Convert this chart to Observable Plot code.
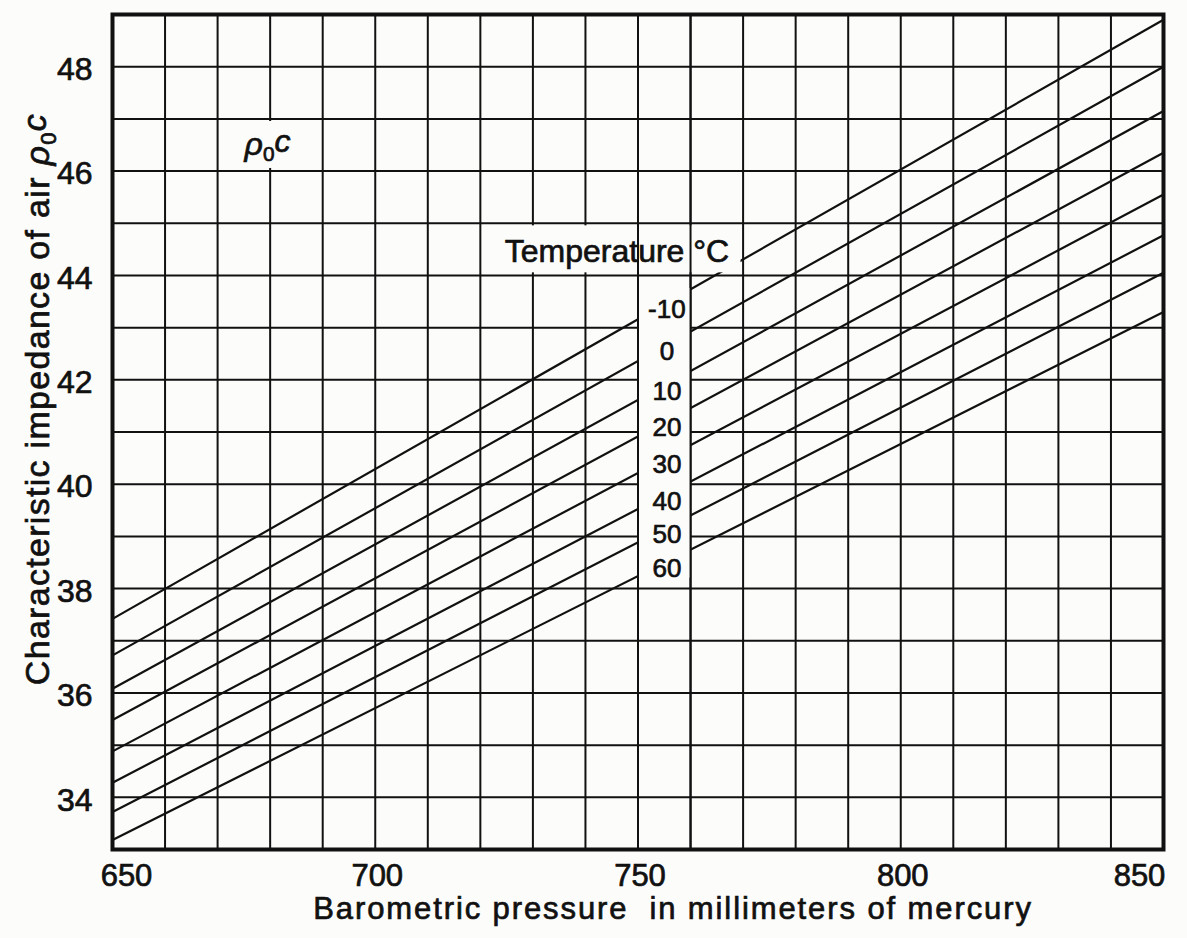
<!DOCTYPE html>
<html><head><meta charset="utf-8">
<script src="https://cdn.jsdelivr.net/npm/d3@7"></script>
<script src="https://cdn.jsdelivr.net/npm/@observablehq/plot@0.6"></script>
<style>
body{margin:0;background:#fcfcfa}
svg text{stroke:#111;stroke-width:0.7px;paint-order:stroke}
</style>
</head><body><div id="chart"></div>
<script>
// ---- data ----
const temperatures = ["-10", "0", "10", "20", "30", "40", "50", "60"];
const pressureEnds = [650, 850];
const impedanceAt650 = [37.42, 36.72, 36.08, 35.48, 34.88, 34.28, 33.72, 33.18];
const impedanceAt850 = [48.90, 48.00, 47.15, 46.35, 45.55, 44.77, 44.05, 43.30];
const xTickLabels = [650, 700, 750, 800, 850];
const yTickLabels = [34, 36, 38, 40, 42, 44, 46, 48];
const xGrid = d3.range(650, 851, 10);
const yGrid = d3.range(33, 50, 1);

const lines = temperatures.flatMap((t, i) => [
  {t, p: pressureEnds[0], z: impedanceAt650[i]},
  {t, p: pressureEnds[1], z: impedanceAt850[i]}
]);
// label positions: on each line in the 750–760 column
const labelX = 755.5;
const labels = temperatures.map((t, i) => ({
  t,
  x: labelX,
  y: impedanceAt650[i] + (labelX - 650) * (impedanceAt850[i] - impedanceAt650[i]) / 200 - 0.14
}));

const bg = "#fcfcfa";
const ink = "#111";

const chart = Plot.plot({
  width: 1187,
  height: 938,
  marginLeft: 112,
  marginRight: 24,
  marginTop: 14,
  marginBottom: 89,
  style: {fontFamily: "'Liberation Sans', Arial, sans-serif", background: bg, color: ink},
  x: {domain: [650, 850]},
  y: {domain: [33, 49]},
  marks: [
    Plot.ruleX(xGrid, {stroke: ink, strokeWidth: 2}),
    Plot.ruleY(yGrid, {stroke: ink, strokeWidth: 2}),
    Plot.line(lines, {x: "p", y: "z", z: "t", stroke: ink, strokeWidth: 2.2}),
    // masks behind annotations
    Plot.rect([{x1: 750, x2: 760, y1: 38.2, y2: 43.75}], {x1: "x1", x2: "x2", y1: "y1", y2: "y2", fill: bg}),
    Plot.rect([{x1: 720.4, x2: 769.6, y1: 44.05, y2: 44.95}], {x1: "x1", x2: "x2", y1: "y1", y2: "y2", fill: bg}),
    Plot.rect([{x1: 670.4, x2: 689.6, y1: 46.05, y2: 46.95}], {x1: "x1", x2: "x2", y1: "y1", y2: "y2", fill: bg}),
    Plot.ruleX([750, 760], {stroke: ink, strokeWidth: 2}),
    Plot.text(labels, {x: "x", y: "y", text: "t", fontSize: 26, fill: ink}),
    Plot.text([{x: 746, y: 44.45}], {x: "x", y: "y", text: () => "Temperature °C", fontSize: 32, fill: ink}),
    Plot.text([{x: 679.5, y: 46.5}], {x: "x", y: "y", text: () => "RHOC", fontSize: 32, fontStyle: "italic", fill: ink, className: "rhoc"}),
    Plot.axisX([650], {tickSize: 0, tickPadding: 14, fontSize: 31, dx: 14, label: null}),
    Plot.axisX([700, 750, 800], {tickSize: 0, tickPadding: 14, fontSize: 31, dx: 2, label: null}),
    Plot.axisX([850], {tickSize: 0, tickPadding: 14, fontSize: 31, dx: -24, label: null}),
    Plot.axisY({ticks: yTickLabels, tickSize: 0, tickPadding: 20, fontSize: 32, dy: 3, label: null}),
    Plot.text(["Barometric pressure  in millimeters of mercury"], {frameAnchor: "bottom", lineAnchor: "middle", textAnchor: "middle", dx: 35, dy: 60, fontSize: 31, fill: ink, className: "xlab"}),
    Plot.text(["YLABEL"], {frameAnchor: "left", textAnchor: "middle", lineAnchor: "middle", rotate: -90, dx: -74, dy: -33, fontSize: 34, fill: ink, className: "ylab"}),
    Plot.frame({stroke: ink, strokeWidth: 4})
  ]
});
document.getElementById("chart").append(chart);

d3.select(chart).selectAll(".rhoc text").html(
  'ρ<tspan dy="0.3em" font-size="0.65em" font-style="normal">0</tspan><tspan dy="-0.3em">c</tspan>'
);
d3.select(chart).selectAll(".xlab text").attr("letter-spacing", "1.9px");
d3.select(chart).selectAll(".ylab text").attr("letter-spacing", "1.3px").html(
  'Characteristic impedance of air <tspan font-style="italic">ρ</tspan><tspan dy="0.3em" font-size="0.65em">0</tspan><tspan dy="-0.3em" font-style="italic">c</tspan>'
);
</script>
</body></html>
